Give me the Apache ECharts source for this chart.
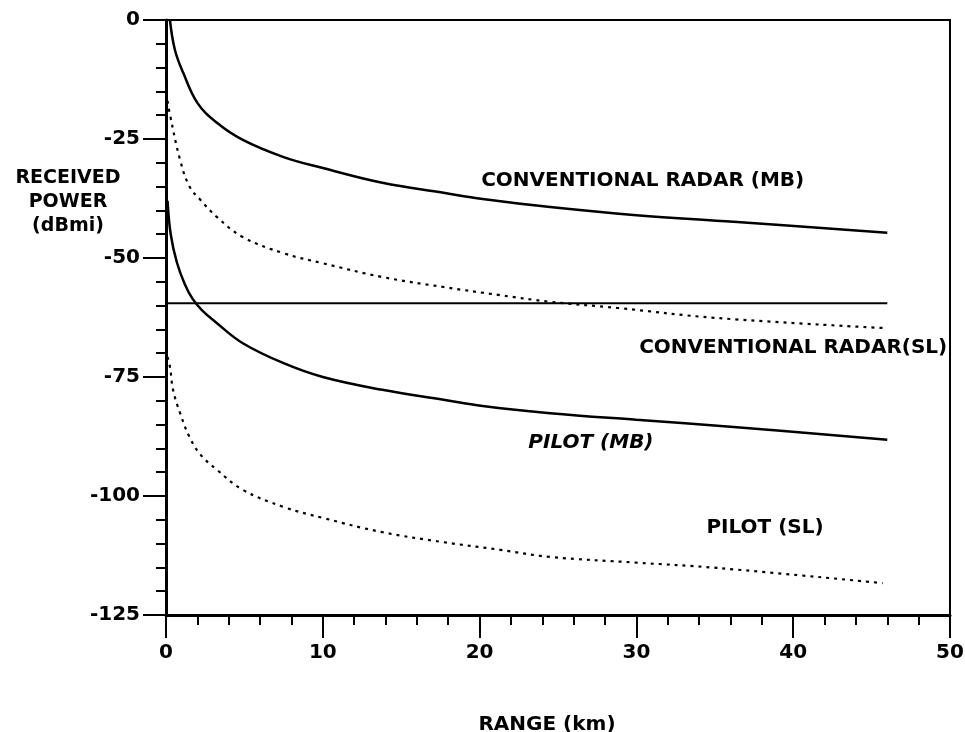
<!DOCTYPE html>
<html><head><meta charset="utf-8">
<script src="https://cdn.jsdelivr.net/npm/echarts@6/dist/echarts.min.js"></script>
<style>html,body{margin:0;padding:0;background:#fff}#c{width:965px;height:732px}</style>
</head><body><div id="c"></div>
<script>
// Range (km) and received power (dBmi)
const convMbX = [0.25, 0.57, 1.1, 2.0, 3.25, 4.9, 7.5, 10, 13.8, 17.7, 20.2, 24.5, 30, 36.2, 46];
const convMbY = [0, -6.3, -11.1, -17.4, -21.6, -25.2, -28.8, -31.1, -34.2, -36.3, -37.6, -39.3, -41.0, -42.4, -44.7];
const convSlX = [0.1, 0.26, 0.9, 1.5, 2.2, 3.25, 4.9, 7.5, 10, 13.8, 17.7, 21.3, 24.5, 28.8, 35.1, 45.7];
const convSlY = [-17, -20, -29.4, -35, -37.8, -41.4, -45.6, -49, -51.1, -54, -56.1, -57.8, -59.2, -60.5, -62.6, -64.7];
const pilotMbX = [0.1, 0.3, 0.7, 1.2, 1.7, 2.3, 3.25, 4.9, 7.5, 10, 13.8, 17.7, 20.2, 24.5, 30, 36.2, 46];
const pilotMbY = [-38, -45, -51, -55.5, -58.6, -61.0, -63.7, -67.9, -72.1, -75, -77.7, -79.8, -81.1, -82.6, -84.0, -85.5, -88.2];
const pilotSlX = [0.1, 0.26, 0.45, 0.9, 1.5, 2.2, 3.25, 4.9, 7.5, 10, 13.8, 17.7, 21.3, 24.5, 30, 35.1, 45.7];
const pilotSlY = [-70.8, -73, -77.7, -82.6, -87.6, -91.3, -94.5, -98.7, -102.3, -104.6, -107.6, -109.7, -111.3, -112.8, -114.0, -115.1, -118.3];
const thresholdX = [0, 46];
const thresholdY = [-59.5, -59.5];
const xTicks = [0, 10, 20, 30, 40, 50];
const yTicks = [-125, -100, -75, -50, -25, 0];

const zip = (xs, ys) => xs.map((x, i) => [x, ys[i]]);
const FONT = 'DejaVu Sans';
const txt = {fontFamily: FONT, fontWeight: 'bold', fontSize: 20, color: '#000'};

function lbl(text, coord, italic) {
  return {coord: coord, symbol: 'circle', symbolSize: 0,
    label: Object.assign({show: true, position: 'inside', formatter: text}, txt, italic ? {fontStyle: 'italic'} : {})};
}
const curve = {type: 'line', smooth: 0.4, showSymbol: false};

const chart = echarts.init(document.getElementById('c'));
chart.setOption({
  animation: false,
  backgroundColor: '#fff',
  title: {
    text: 'RECEIVED\nPOWER\n(dBmi)', left: 68, top: 166, textAlign: 'center', padding: 0,
    textStyle: Object.assign({}, txt, {fontSize: 19, lineHeight: 24})
  },
  grid: {left: 166, right: 15, top: 20, bottom: 117, show: true, borderColor: '#000', borderWidth: 2,
    backgroundColor: 'transparent', containLabel: false, outerBoundsMode: 'none'},
  xAxis: {
    type: 'value', min: 0, max: 50, interval: 10,
    name: 'RANGE (km)', nameLocation: 'middle', nameGap: 100, nameMoveOverlap: false,
    nameTextStyle: Object.assign({}, txt, {padding: [0, 22, 0, 0]}),
    axisLine: {onZero: false, lineStyle: {color: '#000', width: 3}},
    axisTick: {inside: false, length: 23, lineStyle: {color: '#000', width: 2}},
    minorTick: {show: true, splitNumber: 5, length: 10, lineStyle: {color: '#000', width: 2}},
    splitLine: {show: false},
    axisLabel: Object.assign({margin: 28, formatter: v => xTicks.includes(v) ? String(v) : ''}, txt)
  },
  yAxis: {
    type: 'value', min: -125, max: 0, interval: 25,
    axisLine: {onZero: false, lineStyle: {color: '#000', width: 3}},
    axisTick: {inside: false, length: 23, lineStyle: {color: '#000', width: 2}},
    minorTick: {show: true, splitNumber: 5, length: 10, lineStyle: {color: '#000', width: 2}},
    splitLine: {show: false},
    axisLabel: Object.assign({margin: 26, formatter: v => yTicks.includes(v) ? String(v) : ''}, txt)
  },
  series: [
    Object.assign({}, curve, {name: 'CONVENTIONAL RADAR (MB)', data: zip(convMbX, convMbY),
      lineStyle: {color: '#000', width: 2.5},
      markPoint: {data: [lbl('CONVENTIONAL RADAR (MB)', [30.4, -33.8])]}}),
    Object.assign({}, curve, {name: 'CONVENTIONAL RADAR(SL)', data: zip(convSlX, convSlY),
      lineStyle: {color: '#000', width: 2.2, type: [3, 5]},
      markPoint: {data: [lbl('CONVENTIONAL RADAR(SL)', [40.0, -68.9])]}}),
    Object.assign({}, curve, {name: 'PILOT (MB)', data: zip(pilotMbX, pilotMbY),
      lineStyle: {color: '#000', width: 2.5},
      markPoint: {data: [lbl('PILOT (MB)', [27.1, -88.9], true)]}}),
    Object.assign({}, curve, {name: 'PILOT (SL)', data: zip(pilotSlX, pilotSlY),
      lineStyle: {color: '#000', width: 2.2, type: [3, 5]},
      markPoint: {data: [lbl('PILOT (SL)', [38.2, -106.7])]}}),
    {type: 'line', name: 'threshold', data: zip(thresholdX, thresholdY), showSymbol: false,
      lineStyle: {color: '#000', width: 2}}
  ]
});
</script></body></html>
